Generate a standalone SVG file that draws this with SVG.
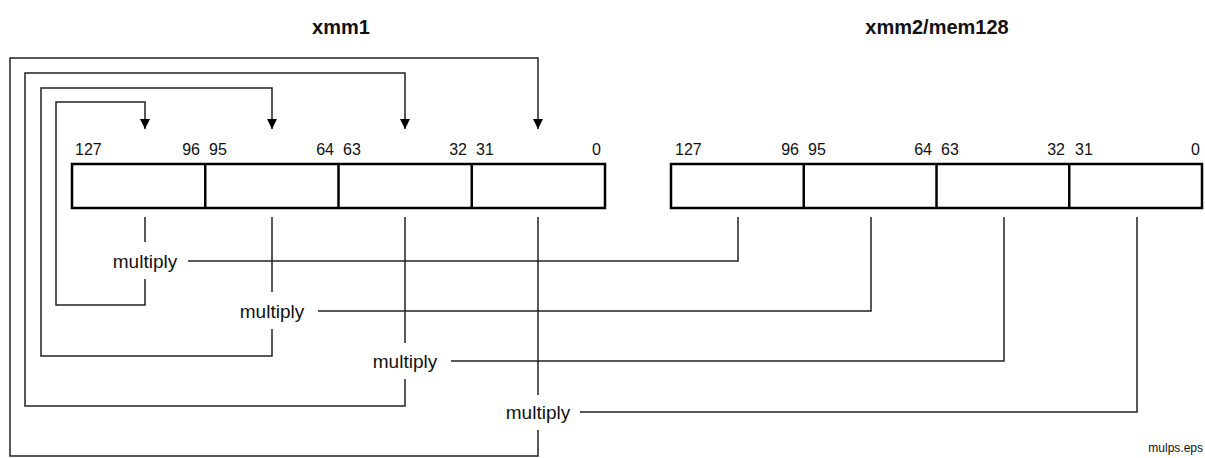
<svg xmlns="http://www.w3.org/2000/svg" width="1205" height="458" viewBox="0 0 1205 458">
<style>
.t{font-family:"Liberation Sans",Arial,sans-serif;fill:#111}
.title{font-size:20px;font-weight:bold;text-anchor:middle}
.num{font-size:16px}
.mul{font-size:19px;text-anchor:middle}
.reg{fill:#fff;stroke:#000;stroke-width:2.5}
.div{stroke:#000;stroke-width:2.5}
.ln{fill:none;stroke:#222;stroke-width:1.5}
</style>
<defs>
<marker id="ah" viewBox="0 0 10 10" refX="10" refY="5" markerWidth="10" markerHeight="10" markerUnits="userSpaceOnUse" orient="auto">
<path d="M0,0 L10,5 L0,10 Z" fill="#000"/>
</marker>
</defs>
<rect width="1205" height="458" fill="#fff"/>
<g id="xmm1">
<text class="t title" x="341" y="34">xmm1</text>
<rect class="reg" x="72" y="164" width="533" height="44"/>
<line class="div" x1="205.25" y1="164" x2="205.25" y2="208"/>
<line class="div" x1="338.5" y1="164" x2="338.5" y2="208"/>
<line class="div" x1="471.75" y1="164" x2="471.75" y2="208"/>
<text class="t num" x="75" y="155">127</text>
<text class="t num" x="200" y="155" text-anchor="end">96</text>
<text class="t num" x="209" y="155">95</text>
<text class="t num" x="334" y="155" text-anchor="end">64</text>
<text class="t num" x="343" y="155">63</text>
<text class="t num" x="467" y="155" text-anchor="end">32</text>
<text class="t num" x="476" y="155">31</text>
<text class="t num" x="601" y="155" text-anchor="end">0</text>
</g>
<g id="xmm2">
<text class="t title" x="937" y="34">xmm2/mem128</text>
<rect class="reg" x="671" y="164" width="531" height="44"/>
<line class="div" x1="803.75" y1="164" x2="803.75" y2="208"/>
<line class="div" x1="936.5" y1="164" x2="936.5" y2="208"/>
<line class="div" x1="1069.25" y1="164" x2="1069.25" y2="208"/>
<text class="t num" x="675" y="155">127</text>
<text class="t num" x="799" y="155" text-anchor="end">96</text>
<text class="t num" x="808" y="155">95</text>
<text class="t num" x="932" y="155" text-anchor="end">64</text>
<text class="t num" x="941" y="155">63</text>
<text class="t num" x="1065" y="155" text-anchor="end">32</text>
<text class="t num" x="1075" y="155">31</text>
<text class="t num" x="1200" y="155" text-anchor="end">0</text>
</g>
<g id="mul1"><text class="t mul" x="145" y="268">multiply</text></g>
<g id="mul2"><text class="t mul" x="272" y="318">multiply</text></g>
<g id="mul3"><text class="t mul" x="405" y="368">multiply</text></g>
<g id="mul4"><text class="t mul" x="538" y="419">multiply</text></g>
<g id="connectors">
<!-- operand 1 stubs -->
<line class="ln" x1="145" y1="217" x2="145" y2="242"/>
<line class="ln" x1="272" y1="217" x2="272" y2="292"/>
<line class="ln" x1="405" y1="217" x2="405" y2="343"/>
<line class="ln" x1="538" y1="217" x2="538" y2="395"/>
<!-- operand 2 paths -->
<polyline class="ln" points="738,217 738,261 188,261"/>
<polyline class="ln" points="871,217 871,311 318,311"/>
<polyline class="ln" points="1004,217 1004,361 451,361"/>
<polyline class="ln" points="1137,217 1137,412 580,412"/>
<!-- result loops -->
<polyline class="ln" points="145,279 145,305 56,305 56,102 145,102 145,129" marker-end="url(#ah)"/>
<polyline class="ln" points="272,329 272,356 41,356 41,88 272,88 272,129" marker-end="url(#ah)"/>
<polyline class="ln" points="405,379 405,406 25,406 25,73 405,73 405,129" marker-end="url(#ah)"/>
<polyline class="ln" points="538,430 538,456 10,456 10,58 538,58 538,129" marker-end="url(#ah)"/>
</g>
<text class="t" x="1203" y="452" font-size="12" text-anchor="end">mulps.eps</text>
</svg>
